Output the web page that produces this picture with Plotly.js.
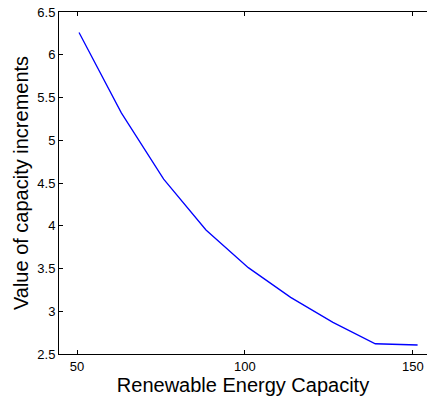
<!DOCTYPE html>
<html>
<head>
<meta charset="utf-8">
<script src="https://cdn.plot.ly/plotly-3.0.1.min.js"></script>
<style>html,body{margin:0;padding:0;overflow:hidden;background:#fff;}</style>
</head>
<body>
<div id="chart" style="width:427px;height:400px;"></div>
<script>
const capacity = [50.6, 63.2, 75.8, 88.4, 101, 113.6, 126.2, 138.8, 151.4];
const increments = [6.26, 5.32, 4.545, 3.95, 3.51, 3.162, 2.87, 2.62, 2.605];
const xTicks = [50, 100, 150];
const yTicks = [2.5, 3, 3.5, 4, 4.5, 5, 5.5, 6, 6.5];

const font = "Liberation Sans, Arial, Helvetica, sans-serif";

Plotly.newPlot('chart', [{
  x: capacity, y: increments, type: 'scatter', mode: 'lines',
  line: {color: '#0000ff', width: 1.3}
}], {
  width: 427, height: 400,
  margin: {l: 59, r: 0, t: 12, b: 46},
  paper_bgcolor: '#fff', plot_bgcolor: '#fff',
  showlegend: false,
  font: {family: font, color: '#000'},
  xaxis: {
    range: [44.64, 154.2], tickvals: xTicks, ticktext: xTicks.map(String),
    ticks: 'inside', ticklen: 4, tickcolor: '#000', showline: true, linecolor: '#000', linewidth: 1,
    mirror: 'ticks', showgrid: false, zeroline: false,
    tickfont: {size: 13, family: font},
    title: {text: 'Renewable Energy Capacity', font: {size: 20, family: font}, standoff: 4}
  },
  yaxis: {
    range: [2.5, 6.5], tickvals: yTicks, ticktext: yTicks.map(String),
    ticks: 'inside', ticklen: 4, tickcolor: '#000', showline: true, linecolor: '#000', linewidth: 1,
    showgrid: false, zeroline: false,
    tickfont: {size: 13, family: font},
    title: {text: 'Value of capacity increments', font: {size: 20, family: font}, standoff: 3}
  }
}, {displayModeBar: false, staticPlot: true});
</script>
</body>
</html>
